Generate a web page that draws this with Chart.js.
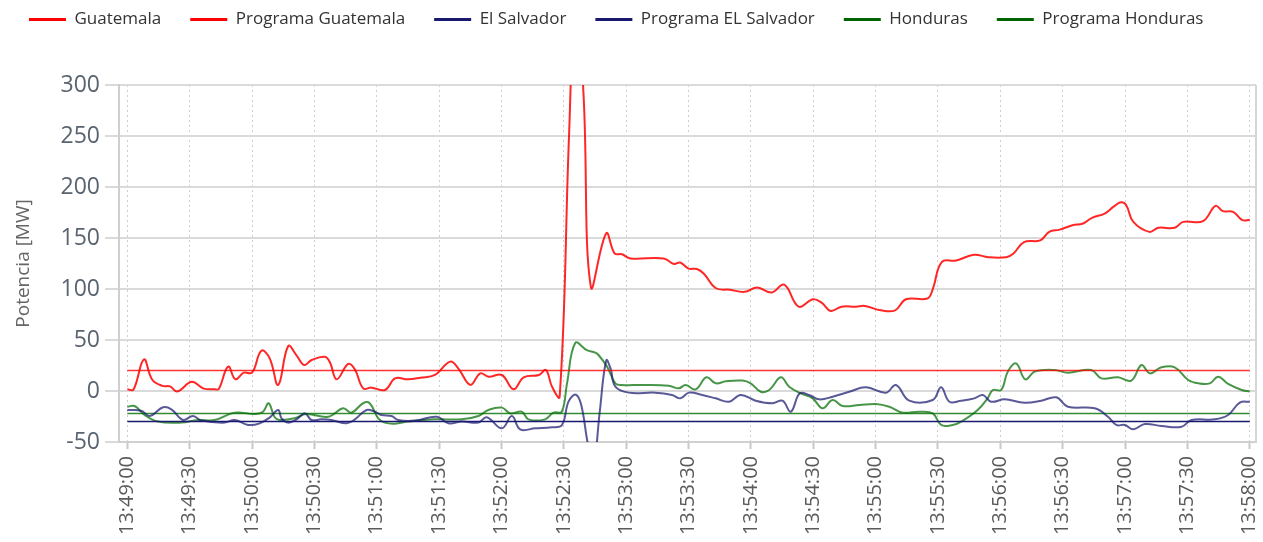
<!DOCTYPE html>
<html>
<head>
<meta charset="utf-8">
<script src="https://cdn.jsdelivr.net/npm/chart.js@4"></script>
<style>
  html, body { margin: 0; padding: 0; background: #fff; }
  #wrap { width: 1263px; height: 542px; position: relative; }
</style>
</head>
<body>
<div id="wrap"><canvas id="grafico"></canvas></div>
<script>
// segundos desde 13:49:00
const tickLabels = ['13:49:00', '13:49:30', '13:50:00', '13:50:30', '13:51:00', '13:51:30', '13:52:00',
  '13:52:30', '13:53:00', '13:53:30', '13:54:00', '13:54:30', '13:55:00', '13:55:30', '13:56:00',
  '13:56:30', '13:57:00', '13:57:30', '13:58:00'];
const yTicks = [-50, 0, 50, 100, 150, 200, 250, 300];

const tGuatemala = [0, 3, 8, 12, 17, 20.5, 24, 31, 36.5, 42, 44, 48.5, 52, 56, 60, 64.5, 68.5, 72.6, 77.4, 81.4,
  85, 88.7, 95, 97.5, 100.7, 106.3, 109.5, 113.5, 117.5, 124, 128.8, 135, 141, 148, 155.3, 159.3, 165, 169.8,
  173.8, 180.2, 185.8, 190.7, 198, 201.4, 204.3, 208, 212.5, 215.6, 219.5, 223, 230.4, 234.4, 238, 242, 258,
  263, 266, 270, 274, 277.4, 283, 290, 297, 303, 310, 316, 323, 329.8, 334, 338.4, 343.6, 350.5, 354.8, 362.5,
  369.4, 374.6, 384.9, 387.5, 391.8, 398.7, 407.3, 414.2, 422.8, 426.2, 431.4, 439.2, 443.5, 448.6, 454.7,
  459.8, 464.1, 470.2, 474.5, 477.9, 480.5, 484, 491.7, 496, 503.8, 508, 517.5, 523.5, 527, 532, 536.5, 540];
const guatemala = [1.7, 1.5, 31, 11, 5, 4.5, -0.5, 9, 2.6, 1.7, 2, 24, 11.5, 18, 18, 39.5, 32, 6, 44, 35,
  25.5, 30.4, 33.6, 28, 11.4, 26.5, 21, 2.6, 3.3, 1, 12.4, 11.4, 13, 15.7, 28.8, 22, 6, 17.3,
  14, 15.7, 1.7, 13.4, 15.7, 20.6, 4.3, -5.6, 250, 390, 290, 102, 154.6, 135, 134, 130, 130,
  124.5, 126, 120, 119.6, 115, 101, 99.2, 97.2, 101.5, 96.6, 104.2, 82.7, 90, 86.7, 78.5, 82.7, 82.7, 83.4, 79.1,
  79.1, 90, 90.7, 99.9, 126.3, 128, 133.5, 131.2, 131.2, 134.5, 146, 147.7, 156, 158.2, 162.5,
  164.2, 169.8, 174, 180.7, 185, 182.3, 165.8, 156, 160, 160, 165.8, 166.5, 181.6, 176.3, 175.7, 167.5, 168];

const tSalvador = [0, 6.7, 10.8, 17.2, 21.2, 26.8, 31.6, 35.7, 46.9, 51.7, 58.1, 63.7, 68.6, 72.6, 74.2, 77.4,
  81.4, 85.4, 88.6, 93.4, 98.2, 105.5, 109.5, 115.1, 119.1, 122.3, 127.1, 130.3, 138.5, 148.9, 154.5, 160.9,
  168.9, 172.9, 180.2, 185, 189, 196.3, 204.3, 209.1, 212.3, 215.8, 218.4, 221.2, 224, 227.3, 230.4, 232.5,
  234.8, 241.2, 254.1, 262.1, 266.1, 270.2, 276.6, 283.1, 289.5, 295.1, 302.3, 310.4, 315.2, 319.2, 323.5,
  328, 332.8, 339.3, 347.3, 355.3, 365, 369.8, 376.2, 387.5, 391.5, 395.5, 401.1, 407.5, 411.6, 415.6, 422,
  431.6, 439.7, 446.9, 452.5, 465.4, 471.8, 475.8, 479.9, 483.9, 489.5, 497.5, 507.2, 512, 523.2, 529.6,
  535.2, 540];
const salvador = [-18.6, -19.3, -24.5, -16, -18, -28.4, -24.5, -29, -31, -28.4, -33.3, -31.7, -25.8, -18.6, -26.8, -31,
  -27.8, -21.9, -28.4, -27.8, -28.4, -31.7, -27.8, -18.6, -20.3, -23.5, -24.5, -28.4, -29, -25.2, -31.7, -30,
  -31, -25.8, -36.6, -24.5, -37.6, -36.6, -35.6, -33.3, -10.2, -3.6, -14, -48, -78, -20, 30, 22,
  4.2, -1.6, -1.6, -3.9, -7.2, -1.6, -3.9, -7.2, -10.5, -3.9, -9.5, -12, -9.5, -20.3, -2.3,
  -3.9, -8.2, -5.6, -0.7, 3.6, -1.6, 5.9, -9.5, -8.8, 3.6, -10.5, -9.5, -7.2, -3.9, -10.5, -8.2,
  -11.4, -9.5, -6.2, -15.4, -17, -25.2, -33.3, -33.3, -37.6, -32.4, -34.3, -35, -28.4, -27.8, -23.5,
  -11.4, -10.5];

const tHonduras = [0, 3.5, 8.3, 14.7, 26, 34, 42, 51.6, 61.3, 65.3, 68, 70.9, 73.3, 80.5, 86.1, 96.6, 103.8,
  107.8, 113.4, 116.6, 120.7, 123.9, 128.7, 135.2, 148, 160.9, 168.9, 173.7, 180.2, 184.2, 189.8, 193, 201,
  205, 209, 211.5, 215.5, 221.1, 225.1, 226.7, 230.8, 234.8, 238, 247.6, 260.5, 265.3, 268.6, 273.4, 278.6,
  283.1, 287.9, 295.9, 299.9, 304.7, 308.8, 314.4, 318.4, 324, 329.7, 334.5, 339.3, 344.1, 352.2, 360.2,
  366.6, 373, 381.1, 387.5, 391.5, 397.1, 401.2, 409.1, 413.9, 416.4, 420.4, 423.6, 427.6, 432, 436.5, 446.1,
  452.5, 463.8, 468.6, 476.6, 483, 487.9, 491.9, 497.5, 503.9, 510.4, 515.2, 520.8, 524.8, 529.6, 536.1, 540];
const honduras = [-15.4, -14.7, -23.5, -30, -31, -28.4, -28.4, -21.2, -22.5, -20.3, -12, -25.8, -28.4, -26.8, -22.5, -25.2, -17,
  -21.2, -12, -12, -26.8, -31, -32, -30, -27.8, -27.8, -24.5, -18.6, -16.3, -21.9, -20.3, -27.8, -27.8,
  -21.2, -20.3, 7, 47, 40, 37.6, 35.3, 23.9, 7.5, 5.9, 5.9, 5.2, 2.6, 5.9, 1.6, 13.4,
  7.5, 9.5, 10.2, 7.5, -0.7, 1, 13.4, 4.2, -2.3, -7.2, -17, -8.8, -14.7, -13.7, -12.7,
  -15.4, -21.2, -20.3, -21.9, -33.3, -33.3, -30, -18.6, -7.2, 1, 1, 19, 27, 11.4, 19, 20.6,
  18, 20.6, 12.4, 13.4, 10.2, 25.5, 17.3, 23.2, 23.2, 10.8, 7.5, 7.5, 14, 6.9, 1, -0.5];

const tPrograma = [0, 540];
const progGuatemala = [20, 20];
const progSalvador = [-30, -30];
const progHonduras = [-22, -22];

const pts = (ts, vs) => ts.map((t, i) => ({ x: t, y: vs[i] }));

function serie(label, ts, vs, color, solid, medida) {
  return {
    label,
    data: pts(ts, vs),
    borderColor: color,
    backgroundColor: solid,
    borderWidth: medida ? 2 : 1.5,
    pointRadius: 0,
    tension: medida ? 0.4 : 0,
    fill: false
  };
}

const marco = {
  id: 'marco',
  beforeInit(chart) {
    const fit = chart.legend.fit;
    chart.legend.fit = function () {
      fit.bind(chart.legend)();
      this.height = 103;
    };
  },
  beforeDatasetsDraw(chart) {
    const { ctx, chartArea: a } = chart;
    ctx.save();
    ctx.strokeStyle = '#d6d6d6';
    ctx.lineWidth = 2;
    ctx.beginPath();
    ctx.moveTo(a.right, a.top);
    ctx.lineTo(a.right, a.bottom);
    ctx.stroke();
    ctx.restore();
  }
};

new Chart(document.getElementById('grafico'), {
  type: 'line',
  data: {
    datasets: [
      serie('Guatemala', tGuatemala, guatemala, 'rgba(255,0,0,0.85)', '#ff0000', true),
      serie('Programa Guatemala', tPrograma, progGuatemala, 'rgba(255,0,0,0.8)', '#ff0000', false),
      serie('El Salvador', tSalvador, salvador, 'rgba(25,25,112,0.72)', '#191970', true),
      serie('Programa EL Salvador', tPrograma, progSalvador, '#191970', '#191970', false),
      serie('Honduras', tHonduras, honduras, 'rgba(0,110,0,0.72)', '#006400', true),
      serie('Programa Honduras', tPrograma, progHonduras, 'rgba(0,110,0,0.8)', '#006400', false)
    ]
  },
  options: {
    responsive: true,
    maintainAspectRatio: false,
    animation: false,
    devicePixelRatio: 1,
    layout: { padding: { top: -18, right: 7, left: 0, bottom: 0 } },
    plugins: {
      tooltip: { enabled: false },
      legend: {
        position: 'top',
        align: 'start',
        labels: {
          boxWidth: 37,
          boxHeight: 3,
          padding: 29,
          color: '#333',
          font: { family: 'Open Sans', size: 17 },
          generateLabels(chart) {
            return Chart.defaults.plugins.legend.labels.generateLabels(chart).map(l => {
              l.lineWidth = 0;
              return l;
            });
          }
        }
      }
    },
    scales: {
      x: {
        type: 'linear',
        min: -4,
        max: 543,
        afterFit(scale) {
          scale.height = 100;
          scale.paddingLeft = 0;
          scale.paddingRight = 0;
        },
        afterBuildTicks(scale) {
          scale.ticks = tickLabels.map((_, i) => ({ value: i * 30 }));
        },
        ticks: {
          autoSkip: false,
          minRotation: 90,
          maxRotation: 90,
          padding: 7,
          color: '#5a5a5a',
          font: { family: 'Open Sans', size: 20 },
          callback: v => tickLabels[Math.round(v / 30)]
        },
        grid: {
          color: '#cfcfcf',
          lineWidth: 1,
          tickLength: 7,
          tickColor: '#c8c8c8',
          tickWidth: 2,
          tickBorderDash: []
        },
        border: { color: '#d0d0d0', width: 2, dash: [2, 3] }
      },
      y: {
        min: yTicks[0],
        max: yTicks[yTicks.length - 1],
        afterFit(scale) { scale.width = 119; },
        afterBuildTicks(scale) {
          scale.ticks = yTicks.map(v => ({ value: v }));
        },
        ticks: {
          padding: 5,
          color: '#5a6470',
          font: { family: 'Open Sans', size: 23 }
        },
        grid: { color: '#dadada', lineWidth: 2, tickLength: 14 },
        border: { color: '#cfcfcf', width: 2 },
        title: {
          display: true,
          text: 'Potencia [MW]',
          color: '#666',
          font: { family: 'Open Sans', size: 19 },
          padding: { top: 12, bottom: 0 }
        }
      }
    }
  },
  plugins: [marco]
});
</script>
</body>
</html>
